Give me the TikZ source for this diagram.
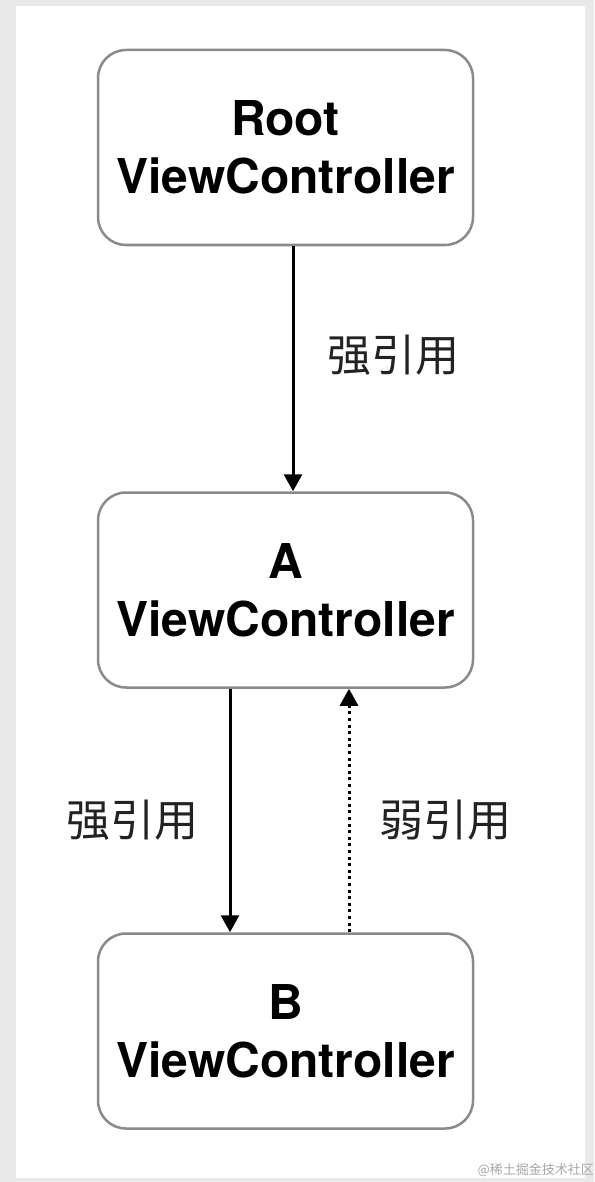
\documentclass[tikz,border=0pt]{standalone}
\usepackage{fontspec}
\setmainfont{TeX Gyre Heros}
\newfontfamily\cjk{Noto Sans CJK SC}
\usetikzlibrary{arrows.meta}
\definecolor{boxline}{HTML}{8A8A8A}
\definecolor{outerbg}{HTML}{E9E9E9}
\definecolor{wmark}{HTML}{A8A8A8}
\definecolor{lbltext}{HTML}{222222}
\begin{document}
\begin{tikzpicture}[x=1pt,y=-1pt,
  vcbox/.style={draw=boxline, line width=2.5pt, rounded corners=28pt, fill=white,
    minimum width=375pt, minimum height=195pt, align=center,
    font=\fontsize{48}{58}\selectfont\bfseries, inner sep=0pt},
  strong/.style={line width=3pt, -{Triangle[width=18pt,length=17pt]}},
  weak/.style={line width=3pt, dash pattern=on 3pt off 3.6pt, -{Triangle[width=18pt,length=17pt]}},
  lbl/.style={font=\cjk\fontsize{44}{46}\selectfont, text=lbltext, inner sep=0pt}]
\useasboundingbox (0,0) rectangle (594,1182);
\fill[outerbg] (0,0) rectangle (594,1182);
\fill[white] (16,6) rectangle (585,1178);
\node[vcbox] (root) at (285.5,147.5) {Root\\ViewController};
\node[vcbox] (a) at (285.5,590) {A\\ViewController};
\node[vcbox] (b) at (285.5,1031) {B\\ViewController};
\draw[strong] ([xshift=7.5pt]root.south) -- ([xshift=7.5pt]a.north);
\draw[strong] ([xshift=-55.5pt]a.south) -- ([xshift=-55.5pt]b.north);
\draw[weak] ([xshift=63.5pt]b.north) -- ([xshift=63.5pt]a.south);
\node[lbl] (l1) at (393,355) {强引用};
\node[lbl] (l2) at (132,820) {强引用};
\node[lbl] (l3) at (445,820) {弱引用};
\node[font=\cjk\fontsize{13}{14}\selectfont, text=wmark, anchor=east, inner sep=0pt] (wm) at (594,1170) {@稀土掘金技术社区};
\end{tikzpicture}
\end{document}
